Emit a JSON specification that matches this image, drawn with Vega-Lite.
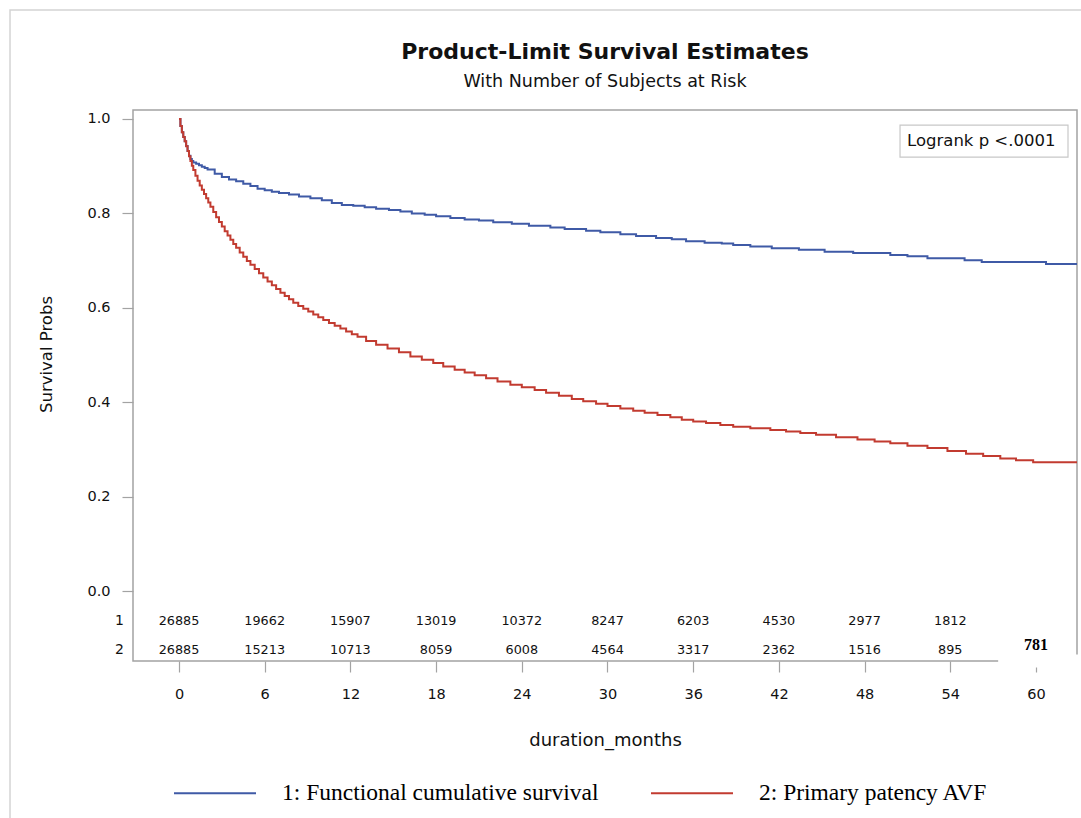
{
  "$schema": "https://vega.github.io/schema/vega-lite/v6.json",
  "autosize": "none",
  "width": 944,
  "height": 551,
  "padding": {"left": 133, "top": 110, "right": 4, "bottom": 157},
  "background": "white",
  "title": {
    "text": "Product-Limit Survival Estimates",
    "subtitle": "With Number of Subjects at Risk",
    "anchor": "middle",
    "frame": "group",
    "font": "DejaVu Sans",
    "fontSize": 22,
    "fontWeight": "bold",
    "color": "#111111",
    "subtitleFont": "DejaVu Sans",
    "subtitleFontSize": 17.5,
    "subtitleColor": "#111111",
    "subtitlePadding": 9,
    "offset": -82
  },
  "config": {
    "view": {"stroke": "#a3a3a3", "strokeWidth": 1.5},
    "axis": {
      "domain": false,
      "grid": false,
      "tickColor": "#a3a3a3",
      "tickWidth": 1.2,
      "tickSize": 11,
      "labelFont": "DejaVu Sans",
      "labelFontSize": 14.5,
      "labelColor": "#111111",
      "titleFont": "DejaVu Sans",
      "titleFontSize": 18,
      "titleFontWeight": "normal",
      "titleColor": "#111111"
    }
  },
  "datasets": {
    "km": [
      {"t": 0, "s": 1.0, "group": "1: Functional cumulative survival"},
      {"t": 0.1, "s": 0.985, "group": "1: Functional cumulative survival"},
      {"t": 0.2, "s": 0.972, "group": "1: Functional cumulative survival"},
      {"t": 0.3, "s": 0.962, "group": "1: Functional cumulative survival"},
      {"t": 0.4, "s": 0.953, "group": "1: Functional cumulative survival"},
      {"t": 0.5, "s": 0.943, "group": "1: Functional cumulative survival"},
      {"t": 0.6, "s": 0.932, "group": "1: Functional cumulative survival"},
      {"t": 0.7, "s": 0.922, "group": "1: Functional cumulative survival"},
      {"t": 0.8, "s": 0.915, "group": "1: Functional cumulative survival"},
      {"t": 0.9, "s": 0.911, "group": "1: Functional cumulative survival"},
      {"t": 1.0, "s": 0.908, "group": "1: Functional cumulative survival"},
      {"t": 1.2, "s": 0.905, "group": "1: Functional cumulative survival"},
      {"t": 1.4, "s": 0.902, "group": "1: Functional cumulative survival"},
      {"t": 1.6, "s": 0.899, "group": "1: Functional cumulative survival"},
      {"t": 1.8, "s": 0.896, "group": "1: Functional cumulative survival"},
      {"t": 2.0, "s": 0.893, "group": "1: Functional cumulative survival"},
      {"t": 2.5, "s": 0.884, "group": "1: Functional cumulative survival"},
      {"t": 3.0, "s": 0.877, "group": "1: Functional cumulative survival"},
      {"t": 3.5, "s": 0.872, "group": "1: Functional cumulative survival"},
      {"t": 4.0, "s": 0.868, "group": "1: Functional cumulative survival"},
      {"t": 4.5, "s": 0.863, "group": "1: Functional cumulative survival"},
      {"t": 5.0, "s": 0.858, "group": "1: Functional cumulative survival"},
      {"t": 5.5, "s": 0.852, "group": "1: Functional cumulative survival"},
      {"t": 6.0, "s": 0.849, "group": "1: Functional cumulative survival"},
      {"t": 6.5, "s": 0.846, "group": "1: Functional cumulative survival"},
      {"t": 7.0, "s": 0.843, "group": "1: Functional cumulative survival"},
      {"t": 7.7, "s": 0.84, "group": "1: Functional cumulative survival"},
      {"t": 8.4, "s": 0.836, "group": "1: Functional cumulative survival"},
      {"t": 9.2, "s": 0.832, "group": "1: Functional cumulative survival"},
      {"t": 10.0, "s": 0.828, "group": "1: Functional cumulative survival"},
      {"t": 10.7, "s": 0.822, "group": "1: Functional cumulative survival"},
      {"t": 11.4, "s": 0.818, "group": "1: Functional cumulative survival"},
      {"t": 12.2, "s": 0.816, "group": "1: Functional cumulative survival"},
      {"t": 13.0, "s": 0.813, "group": "1: Functional cumulative survival"},
      {"t": 13.8, "s": 0.81, "group": "1: Functional cumulative survival"},
      {"t": 14.7, "s": 0.807, "group": "1: Functional cumulative survival"},
      {"t": 15.5, "s": 0.804, "group": "1: Functional cumulative survival"},
      {"t": 16.3, "s": 0.8, "group": "1: Functional cumulative survival"},
      {"t": 17.2, "s": 0.797, "group": "1: Functional cumulative survival"},
      {"t": 18.0, "s": 0.794, "group": "1: Functional cumulative survival"},
      {"t": 19.0, "s": 0.79, "group": "1: Functional cumulative survival"},
      {"t": 20.0, "s": 0.787, "group": "1: Functional cumulative survival"},
      {"t": 21.0, "s": 0.785, "group": "1: Functional cumulative survival"},
      {"t": 22.0, "s": 0.781, "group": "1: Functional cumulative survival"},
      {"t": 23.3, "s": 0.778, "group": "1: Functional cumulative survival"},
      {"t": 24.5, "s": 0.774, "group": "1: Functional cumulative survival"},
      {"t": 26.0, "s": 0.77, "group": "1: Functional cumulative survival"},
      {"t": 27.0, "s": 0.767, "group": "1: Functional cumulative survival"},
      {"t": 28.5, "s": 0.763, "group": "1: Functional cumulative survival"},
      {"t": 29.5, "s": 0.76, "group": "1: Functional cumulative survival"},
      {"t": 30.9, "s": 0.756, "group": "1: Functional cumulative survival"},
      {"t": 32.0, "s": 0.752, "group": "1: Functional cumulative survival"},
      {"t": 33.4, "s": 0.748, "group": "1: Functional cumulative survival"},
      {"t": 34.5, "s": 0.745, "group": "1: Functional cumulative survival"},
      {"t": 35.5, "s": 0.741, "group": "1: Functional cumulative survival"},
      {"t": 36.8, "s": 0.738, "group": "1: Functional cumulative survival"},
      {"t": 38.0, "s": 0.736, "group": "1: Functional cumulative survival"},
      {"t": 38.8, "s": 0.733, "group": "1: Functional cumulative survival"},
      {"t": 40.0, "s": 0.73, "group": "1: Functional cumulative survival"},
      {"t": 41.5, "s": 0.726, "group": "1: Functional cumulative survival"},
      {"t": 43.4, "s": 0.723, "group": "1: Functional cumulative survival"},
      {"t": 45.2, "s": 0.719, "group": "1: Functional cumulative survival"},
      {"t": 47.2, "s": 0.716, "group": "1: Functional cumulative survival"},
      {"t": 49.8, "s": 0.712, "group": "1: Functional cumulative survival"},
      {"t": 51.0, "s": 0.709, "group": "1: Functional cumulative survival"},
      {"t": 52.4, "s": 0.705, "group": "1: Functional cumulative survival"},
      {"t": 55.0, "s": 0.701, "group": "1: Functional cumulative survival"},
      {"t": 56.2, "s": 0.697, "group": "1: Functional cumulative survival"},
      {"t": 60.7, "s": 0.693, "group": "1: Functional cumulative survival"},
      {"t": 62.87, "s": 0.693, "group": "1: Functional cumulative survival"},
      {"t": 0, "s": 1.0, "group": "2: Primary patency AVF"},
      {"t": 0.1, "s": 0.985, "group": "2: Primary patency AVF"},
      {"t": 0.2, "s": 0.972, "group": "2: Primary patency AVF"},
      {"t": 0.3, "s": 0.962, "group": "2: Primary patency AVF"},
      {"t": 0.4, "s": 0.953, "group": "2: Primary patency AVF"},
      {"t": 0.5, "s": 0.942, "group": "2: Primary patency AVF"},
      {"t": 0.6, "s": 0.932, "group": "2: Primary patency AVF"},
      {"t": 0.7, "s": 0.921, "group": "2: Primary patency AVF"},
      {"t": 0.8, "s": 0.911, "group": "2: Primary patency AVF"},
      {"t": 0.9, "s": 0.901, "group": "2: Primary patency AVF"},
      {"t": 1.0, "s": 0.892, "group": "2: Primary patency AVF"},
      {"t": 1.15, "s": 0.88, "group": "2: Primary patency AVF"},
      {"t": 1.3, "s": 0.869, "group": "2: Primary patency AVF"},
      {"t": 1.45, "s": 0.859, "group": "2: Primary patency AVF"},
      {"t": 1.6, "s": 0.85, "group": "2: Primary patency AVF"},
      {"t": 1.75, "s": 0.841, "group": "2: Primary patency AVF"},
      {"t": 1.9, "s": 0.832, "group": "2: Primary patency AVF"},
      {"t": 2.05, "s": 0.823, "group": "2: Primary patency AVF"},
      {"t": 2.2, "s": 0.814, "group": "2: Primary patency AVF"},
      {"t": 2.4, "s": 0.803, "group": "2: Primary patency AVF"},
      {"t": 2.6, "s": 0.792, "group": "2: Primary patency AVF"},
      {"t": 2.8, "s": 0.782, "group": "2: Primary patency AVF"},
      {"t": 3.0, "s": 0.772, "group": "2: Primary patency AVF"},
      {"t": 3.2, "s": 0.762, "group": "2: Primary patency AVF"},
      {"t": 3.4, "s": 0.753, "group": "2: Primary patency AVF"},
      {"t": 3.6, "s": 0.744, "group": "2: Primary patency AVF"},
      {"t": 3.8, "s": 0.735, "group": "2: Primary patency AVF"},
      {"t": 4.0, "s": 0.727, "group": "2: Primary patency AVF"},
      {"t": 4.25, "s": 0.717, "group": "2: Primary patency AVF"},
      {"t": 4.5, "s": 0.708, "group": "2: Primary patency AVF"},
      {"t": 4.75, "s": 0.699, "group": "2: Primary patency AVF"},
      {"t": 5.0, "s": 0.691, "group": "2: Primary patency AVF"},
      {"t": 5.3, "s": 0.682, "group": "2: Primary patency AVF"},
      {"t": 5.6, "s": 0.673, "group": "2: Primary patency AVF"},
      {"t": 5.9, "s": 0.664, "group": "2: Primary patency AVF"},
      {"t": 6.2, "s": 0.656, "group": "2: Primary patency AVF"},
      {"t": 6.5, "s": 0.648, "group": "2: Primary patency AVF"},
      {"t": 6.8, "s": 0.64, "group": "2: Primary patency AVF"},
      {"t": 7.1, "s": 0.632, "group": "2: Primary patency AVF"},
      {"t": 7.4, "s": 0.625, "group": "2: Primary patency AVF"},
      {"t": 7.7, "s": 0.618, "group": "2: Primary patency AVF"},
      {"t": 8.0, "s": 0.611, "group": "2: Primary patency AVF"},
      {"t": 8.35, "s": 0.604, "group": "2: Primary patency AVF"},
      {"t": 8.7, "s": 0.598, "group": "2: Primary patency AVF"},
      {"t": 9.05, "s": 0.592, "group": "2: Primary patency AVF"},
      {"t": 9.4, "s": 0.586, "group": "2: Primary patency AVF"},
      {"t": 9.75, "s": 0.58, "group": "2: Primary patency AVF"},
      {"t": 10.1, "s": 0.574, "group": "2: Primary patency AVF"},
      {"t": 10.5, "s": 0.568, "group": "2: Primary patency AVF"},
      {"t": 10.9, "s": 0.562, "group": "2: Primary patency AVF"},
      {"t": 11.3, "s": 0.556, "group": "2: Primary patency AVF"},
      {"t": 11.7, "s": 0.55, "group": "2: Primary patency AVF"},
      {"t": 12.1, "s": 0.544, "group": "2: Primary patency AVF"},
      {"t": 12.5, "s": 0.539, "group": "2: Primary patency AVF"},
      {"t": 13.1, "s": 0.53, "group": "2: Primary patency AVF"},
      {"t": 13.8, "s": 0.522, "group": "2: Primary patency AVF"},
      {"t": 14.6, "s": 0.514, "group": "2: Primary patency AVF"},
      {"t": 15.4, "s": 0.506, "group": "2: Primary patency AVF"},
      {"t": 16.2, "s": 0.497, "group": "2: Primary patency AVF"},
      {"t": 17.0, "s": 0.49, "group": "2: Primary patency AVF"},
      {"t": 17.8, "s": 0.483, "group": "2: Primary patency AVF"},
      {"t": 18.5, "s": 0.476, "group": "2: Primary patency AVF"},
      {"t": 19.3, "s": 0.469, "group": "2: Primary patency AVF"},
      {"t": 20.0, "s": 0.463, "group": "2: Primary patency AVF"},
      {"t": 20.7, "s": 0.457, "group": "2: Primary patency AVF"},
      {"t": 21.5, "s": 0.451, "group": "2: Primary patency AVF"},
      {"t": 22.3, "s": 0.444, "group": "2: Primary patency AVF"},
      {"t": 23.2, "s": 0.437, "group": "2: Primary patency AVF"},
      {"t": 24.0, "s": 0.432, "group": "2: Primary patency AVF"},
      {"t": 24.9, "s": 0.426, "group": "2: Primary patency AVF"},
      {"t": 25.7, "s": 0.42, "group": "2: Primary patency AVF"},
      {"t": 26.6, "s": 0.414, "group": "2: Primary patency AVF"},
      {"t": 27.5, "s": 0.407, "group": "2: Primary patency AVF"},
      {"t": 28.3, "s": 0.402, "group": "2: Primary patency AVF"},
      {"t": 29.2, "s": 0.397, "group": "2: Primary patency AVF"},
      {"t": 30.0, "s": 0.392, "group": "2: Primary patency AVF"},
      {"t": 30.9, "s": 0.387, "group": "2: Primary patency AVF"},
      {"t": 31.8, "s": 0.382, "group": "2: Primary patency AVF"},
      {"t": 32.6, "s": 0.378, "group": "2: Primary patency AVF"},
      {"t": 33.5, "s": 0.373, "group": "2: Primary patency AVF"},
      {"t": 34.4, "s": 0.368, "group": "2: Primary patency AVF"},
      {"t": 35.2, "s": 0.363, "group": "2: Primary patency AVF"},
      {"t": 36.0, "s": 0.359, "group": "2: Primary patency AVF"},
      {"t": 36.9, "s": 0.356, "group": "2: Primary patency AVF"},
      {"t": 37.9, "s": 0.352, "group": "2: Primary patency AVF"},
      {"t": 38.8, "s": 0.348, "group": "2: Primary patency AVF"},
      {"t": 40.0, "s": 0.345, "group": "2: Primary patency AVF"},
      {"t": 41.4, "s": 0.341, "group": "2: Primary patency AVF"},
      {"t": 42.5, "s": 0.338, "group": "2: Primary patency AVF"},
      {"t": 43.5, "s": 0.335, "group": "2: Primary patency AVF"},
      {"t": 44.6, "s": 0.331, "group": "2: Primary patency AVF"},
      {"t": 46.0, "s": 0.326, "group": "2: Primary patency AVF"},
      {"t": 47.5, "s": 0.321, "group": "2: Primary patency AVF"},
      {"t": 48.7, "s": 0.317, "group": "2: Primary patency AVF"},
      {"t": 49.8, "s": 0.313, "group": "2: Primary patency AVF"},
      {"t": 51.0, "s": 0.308, "group": "2: Primary patency AVF"},
      {"t": 52.4, "s": 0.303, "group": "2: Primary patency AVF"},
      {"t": 53.8, "s": 0.297, "group": "2: Primary patency AVF"},
      {"t": 55.1, "s": 0.291, "group": "2: Primary patency AVF"},
      {"t": 56.3, "s": 0.286, "group": "2: Primary patency AVF"},
      {"t": 57.5, "s": 0.281, "group": "2: Primary patency AVF"},
      {"t": 58.6, "s": 0.277, "group": "2: Primary patency AVF"},
      {"t": 59.8, "s": 0.273, "group": "2: Primary patency AVF"},
      {"t": 62.87, "s": 0.273, "group": "2: Primary patency AVF"}
    ],
    "risk": [
      {"t": 0, "row": 1, "n": "26885"}, {"t": 6, "row": 1, "n": "19662"}, {"t": 12, "row": 1, "n": "15907"},
      {"t": 18, "row": 1, "n": "13019"}, {"t": 24, "row": 1, "n": "10372"}, {"t": 30, "row": 1, "n": "8247"},
      {"t": 36, "row": 1, "n": "6203"}, {"t": 42, "row": 1, "n": "4530"}, {"t": 48, "row": 1, "n": "2977"},
      {"t": 54, "row": 1, "n": "1812"},
      {"t": 0, "row": 2, "n": "26885"}, {"t": 6, "row": 2, "n": "15213"}, {"t": 12, "row": 2, "n": "10713"},
      {"t": 18, "row": 2, "n": "8059"}, {"t": 24, "row": 2, "n": "6008"}, {"t": 30, "row": 2, "n": "4564"},
      {"t": 36, "row": 2, "n": "3317"}, {"t": 42, "row": 2, "n": "2362"}, {"t": 48, "row": 2, "n": "1516"},
      {"t": 54, "row": 2, "n": "895"}
    ]
  },
  "layer": [
    {
      "data": {"values": [{"x1": -11.83, "x2": 64.5, "y1": 1.231, "y2": -0.6}]},
      "mark": {"type": "rect", "fill": null, "fillOpacity": 0, "stroke": "#d4d4d4", "strokeWidth": 1.5, "clip": false},
      "encoding": {
        "x": {"field": "x1", "type": "quantitative"},
        "x2": {"field": "x2"},
        "y": {"field": "y1", "type": "quantitative"},
        "y2": {"field": "y2"}
      }
    },
    {
      "data": {"name": "km"},
      "mark": {"type": "line", "interpolate": "step-after", "strokeWidth": 2, "clip": true},
      "encoding": {
        "x": {
          "field": "t", "type": "quantitative",
          "scale": {"domain": [-3.22, 62.87], "nice": false, "zero": false},
          "axis": {"values": [0, 6, 12, 18, 24, 30, 36, 42, 48, 54, 60], "title": "duration_months", "labelPadding": 15, "titlePadding": 31}
        },
        "y": {
          "field": "s", "type": "quantitative",
          "scale": {"domain": [-0.148, 1.019], "nice": false, "zero": false},
          "axis": {"values": [0, 0.2, 0.4, 0.6, 0.8, 1.0], "format": ".1f", "title": "Survival Probs", "labelPadding": 12, "titleX": -87, "titleY": 244, "titleAngle": -90, "titleAlign": "center", "titleBaseline": "middle", "titleFontSize": 16.5}
        },
        "color": {
          "field": "group", "type": "nominal",
          "scale": {"domain": ["1: Functional cumulative survival", "2: Primary patency AVF"], "range": ["#3f5aa6", "#c23b30"]},
          "legend": {
            "orient": "none", "legendX": 40, "legendY": 641, "direction": "horizontal", "title": null,
            "symbolType": "stroke", "symbolSize": 6724, "symbolStrokeWidth": 2,
            "labelFont": "Liberation Serif", "labelFontSize": 23.5, "labelColor": "black", "labelOffset": 25,
            "columnPadding": 48, "padding": 0, "labelLimit": 0
          }
        }
      }
    },
    {
      "data": {"values": [{"x1": 50.48, "x2": 62.24, "y1": 0.987, "y2": 0.919}]},
      "mark": {"type": "rect", "fill": "white", "stroke": "#c8c8c8", "strokeWidth": 1.2},
      "encoding": {
        "x": {"field": "x1", "type": "quantitative"},
        "x2": {"field": "x2"},
        "y": {"field": "y1", "type": "quantitative"},
        "y2": {"field": "y2"}
      }
    },
    {
      "data": {"values": [{"x": 50.97, "y": 0.953, "label": "Logrank p <.0001"}]},
      "mark": {"type": "text", "align": "left", "baseline": "middle", "font": "DejaVu Sans", "fontSize": 16.5, "color": "#111111"},
      "encoding": {
        "x": {"field": "x", "type": "quantitative"},
        "y": {"field": "y", "type": "quantitative"},
        "text": {"field": "label"}
      }
    },
    {
      "data": {"name": "risk"},
      "transform": [{"filter": "datum.row == 1"}],
      "mark": {"type": "text", "align": "center", "baseline": "middle", "font": "DejaVu Sans", "fontSize": 12.8, "color": "#111111"},
      "encoding": {
        "x": {"field": "t", "type": "quantitative"},
        "y": {"datum": -0.0636},
        "text": {"field": "n"}
      }
    },
    {
      "data": {"name": "risk"},
      "transform": [{"filter": "datum.row == 2"}],
      "mark": {"type": "text", "align": "center", "baseline": "middle", "font": "DejaVu Sans", "fontSize": 12.8, "color": "#111111"},
      "encoding": {
        "x": {"field": "t", "type": "quantitative"},
        "y": {"datum": -0.125},
        "text": {"field": "n"}
      }
    },
    {
      "data": {"values": [{"x1": 57.35, "x2": 63.2, "y1": -0.134, "y2": -0.162}]},
      "mark": {"type": "rect", "fill": "white", "clip": false},
      "encoding": {
        "x": {"field": "x1", "type": "quantitative"},
        "x2": {"field": "x2"},
        "y": {"field": "y1", "type": "quantitative"},
        "y2": {"field": "y2"}
      }
    },
    {
      "data": {"values": [{"t": 60, "n": "781"}]},
      "mark": {"type": "text", "align": "center", "baseline": "middle", "font": "Liberation Serif", "fontSize": 16, "fontWeight": "bold", "color": "black"},
      "encoding": {
        "x": {"field": "t", "type": "quantitative"},
        "y": {"datum": -0.114},
        "text": {"field": "n"}
      }
    },
    {
      "data": {"values": [{"label": "1", "v": -0.0636}, {"label": "2", "v": -0.125}]},
      "mark": {"type": "text", "align": "right", "baseline": "middle", "font": "DejaVu Sans", "fontSize": 14, "color": "#111111", "dx": -9, "clip": false},
      "encoding": {
        "x": {"datum": -3.22},
        "y": {"field": "v", "type": "quantitative"},
        "text": {"field": "label"}
      }
    }
  ]
}
